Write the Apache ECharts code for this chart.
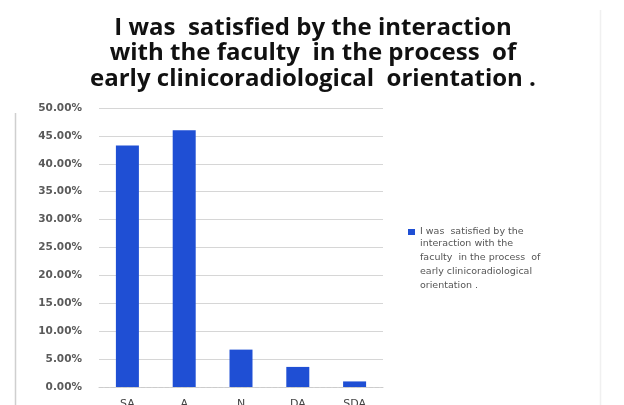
<!DOCTYPE html>
<html>
<head>
<meta charset="utf-8">
<script src="https://cdn.jsdelivr.net/npm/echarts@6/dist/echarts.min.js"></script>
<style>
  html, body { margin: 0; padding: 0; background: #ffffff; }
  #chart { width: 624px; height: 405px; }
</style>
</head>
<body>
<div id="chart"></div>
<script>
// Survey response categories and share of respondents (%)
const categories = ['SA', 'A', 'N', 'DA', 'SDA'];
const shares = [43.3, 46.0, 6.7, 3.6, 1.0];
const seriesName = 'I was  satisfied by the interaction with the faculty  in the process  of early clinicoradiological orientation .';
const legendLines = ['I was  satisfied by the', 'interaction with the', 'faculty  in the process  of', 'early clinicoradiological', 'orientation .'];
const titleText = 'I was  satisfied by the interaction\nwith the faculty  in the process  of\nearly clinicoradiological  orientation .';

const legendFont = {
  fontFamily: 'DejaVu Sans',
  fontSize: 9.5,
  fill: '#555555'
};

// Wrapped remainder of the legend label, beneath the legend item
const legendTail = legendLines.slice(1).map((line, i) => ({
  type: 'text',
  left: 420,
  top: 239 + i * 14,
  silent: true,
  style: Object.assign({ text: line }, legendFont)
}));

// Thin frame edges of the slide
const frameEdges = [
  { type: 'line', silent: true, shape: { x1: 15.5, y1: 113, x2: 15.5, y2: 405 }, style: { stroke: '#cfcfcf', lineWidth: 1.5 } },
  { type: 'line', silent: true, shape: { x1: 600.5, y1: 10, x2: 600.5, y2: 405 }, style: { stroke: '#f0f0f0', lineWidth: 1.5 } }
];

const chart = echarts.init(document.getElementById('chart'));
chart.setOption({
  backgroundColor: '#ffffff',
  animation: false,
  title: {
    text: titleText,
    left: 308,
    textAlign: 'center',
    top: 10,
    textStyle: {
      fontFamily: 'Open Sans',
      fontWeight: 'bold',
      fontSize: 24,
      lineHeight: 25.5,
      color: '#111111'
    }
  },
  // The legend item carries the first line of the label
  legend: {
    left: 408,
    top: 227,
    padding: 0,
    icon: 'rect',
    itemWidth: 7,
    itemHeight: 6,
    itemGap: 5,
    data: [seriesName],
    formatter: () => legendLines[0],
    textStyle: {
      fontFamily: legendFont.fontFamily,
      fontSize: legendFont.fontSize,
      color: legendFont.fill
    }
  },
  graphic: legendTail.concat(frameEdges),
  grid: {
    left: 99,
    right: 241,
    top: 108,
    bottom: 18,
    outerBoundsMode: 'none',
    containLabel: false
  },
  xAxis: {
    type: 'category',
    data: categories,
    axisTick: { show: false },
    axisLine: { lineStyle: { color: '#cccccc', type: 'dashed' } },
    axisLabel: {
      fontFamily: 'DejaVu Sans',
      fontSize: 11,
      color: '#444444',
      margin: 12
    }
  },
  yAxis: {
    type: 'value',
    min: 0,
    max: 50,
    interval: 5,
    axisLine: { show: false },
    axisTick: { show: false },
    splitLine: { lineStyle: { color: '#d6d6d6', width: 1 } },
    axisLabel: {
      fontFamily: 'DejaVu Sans',
      fontSize: 10.5,
      fontWeight: 'bold',
      color: '#5a5a5a',
      margin: 17,
      formatter: v => v.toFixed(2) + '%'
    }
  },
  series: [{
    name: seriesName,
    type: 'bar',
    data: shares,
    barWidth: 23,
    itemStyle: { color: '#1f4fd4' }
  }]
});
</script>
</body>
</html>
